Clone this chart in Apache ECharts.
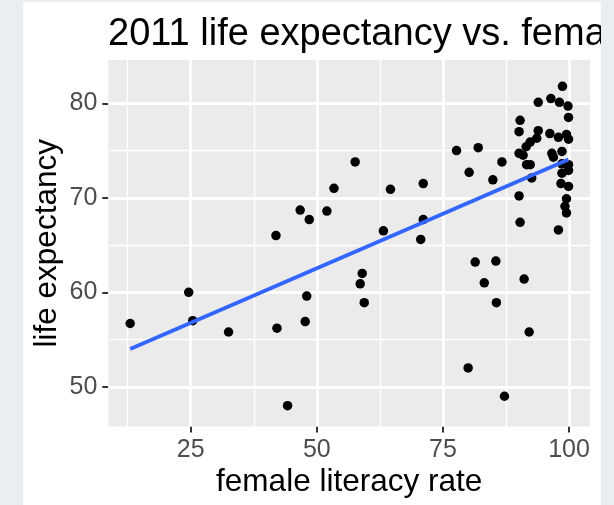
<!DOCTYPE html>
<html>
<head>
<meta charset="utf-8">
<script src="https://cdn.jsdelivr.net/npm/echarts@6/dist/echarts.min.js"></script>
<style>
  html, body { margin: 0; padding: 0; width: 614px; height: 505px; background: #ebeef1; overflow: hidden; }
  #chart { position: absolute; left: 23px; top: 2px; width: 578px; height: 503px; background: #ffffff; }
</style>
</head>
<body>
<div id="chart"></div>
<script>
// ---- data ----
const literacy = [13.0, 24.6, 25.4, 32.5, 41.9, 42.1, 44.2, 46.7, 47.7, 48.0,
  48.5, 52.0, 53.4, 57.6, 58.6, 59.0, 59.4, 63.2, 64.6, 70.6,
  71.1, 71.1, 77.7, 80.0, 80.2, 81.4, 82.0, 83.2, 84.9, 85.5,
  85.6, 86.7, 87.2, 90.1, 90.3, 91.1, 92.1, 97.9, 90.3, 90.1,
  93.9, 96.4, 98.7, 98.1, 99.8, 99.9, 93.9, 96.2, 97.9, 99.5,
  99.9, 92.3, 91.5, 93.6, 90.1, 90.9, 96.6, 96.9, 98.6, 91.6,
  92.3, 98.6, 99.9, 99.9, 98.6, 92.6, 98.4, 99.9, 99.5, 99.2, 99.5];
const lifeExp = [56.7, 60.0, 57.0, 55.8, 66.0, 56.2, 48.0, 68.7, 56.9, 59.6,
  67.7, 68.6, 71.0, 73.8, 60.9, 62.0, 58.9, 66.5, 70.9, 65.6,
  67.7, 71.5, 75.0, 52.0, 72.7, 63.2, 75.3, 61.0, 71.9, 63.3,
  58.9, 73.8, 49.0, 70.2, 67.4, 61.4, 55.8, 66.6, 78.2, 77.0,
  80.1, 80.5, 81.8, 80.1, 79.7, 78.5, 77.1, 76.8, 76.4, 76.7,
  76.2, 75.9, 75.4, 76.3, 74.7, 74.5, 74.7, 74.3, 74.9, 73.5,
  73.5, 73.6, 73.5, 72.9, 72.6, 72.1, 71.5, 71.2, 69.9, 69.1, 68.4];
// fitted linear trend (endpoints)
const fitX = [13.0, 99.9];
const fitY = [54.0, 74.05];
// tick labels / gridlines
const xTicks = [25, 50, 75, 100];
const xMinor = [12.5, 37.5, 62.5, 87.5];
const yTicks = [50, 60, 70, 80];
const yMinor = [55, 65, 75];

const titleText = '2011 life expectancy vs. female literacy rate';
const xTitle = 'female literacy rate';
const yTitle = 'life expectancy';

// ---- build ----
const points = literacy.map((x, i) => [x, lifeExp[i]]);
const fitLine = fitX.map((x, i) => [x, fitY[i]]);
const FONT = "'Liberation Sans', Arial, Helvetica, sans-serif";

const gridLines = [];
xTicks.forEach(v => gridLines.push({ xAxis: v, lineStyle: { width: 2.8 } }));
xMinor.forEach(v => gridLines.push({ xAxis: v, lineStyle: { width: 1.4 } }));
yTicks.forEach(v => gridLines.push({ yAxis: v, lineStyle: { width: 2.8 } }));
yMinor.forEach(v => gridLines.push({ yAxis: v, lineStyle: { width: 1.4 } }));

const chart = echarts.init(document.getElementById('chart'), null, { renderer: 'canvas' });
chart.setOption({
  animation: false,
  textStyle: { fontFamily: FONT },
  title: {
    text: titleText,
    left: 85,
    top: 14,
    padding: 0,
    textStyle: { fontFamily: FONT, fontSize: 38, fontWeight: 'normal', color: '#000000' }
  },
  grid: {
    left: 85.3, top: 58, width: 481.7, height: 366.5,
    containLabel: false, outerBoundsMode: 'none',
    show: true, backgroundColor: '#ebebeb', borderWidth: 0
  },
  xAxis: {
    type: 'value', min: 8.66, max: 104.16,
    name: xTitle, nameLocation: 'middle', nameGap: 40, nameMoveOverlap: false,
    nameTextStyle: { fontFamily: FONT, fontSize: 31.5, color: '#000000' },
    axisLine: { show: false },
    splitLine: { show: false },
    axisTick: { show: true, customValues: xTicks, length: 6, lineStyle: { color: '#333333', width: 2 } },
    axisLabel: { customValues: xTicks, margin: 11, fontSize: 25, color: '#4d4d4d', fontFamily: FONT }
  },
  yAxis: {
    type: 'value', min: 45.80, max: 84.58,
    name: yTitle, nameLocation: 'middle', nameGap: 45, nameMoveOverlap: false,
    nameTextStyle: { fontFamily: FONT, fontSize: 31.5, color: '#000000' },
    axisLine: { show: false },
    splitLine: { show: false },
    axisTick: { show: true, customValues: yTicks, length: 6, lineStyle: { color: '#333333', width: 2 } },
    axisLabel: { customValues: yTicks, margin: 11, fontSize: 25, color: '#4d4d4d', fontFamily: FONT }
  },
  series: [
    {
      type: 'scatter', data: [], z: 1, silent: true,
      markLine: {
        z: 1,
        silent: true, symbol: ['none', 'none'], label: { show: false },
        lineStyle: { color: '#ffffff', type: 'solid' },
        emphasis: { disabled: true },
        data: gridLines
      }
    },
    {
      type: 'scatter', data: points, z: 3, symbolSize: 9.5,
      itemStyle: { color: '#000000', opacity: 1 }
    },
    {
      type: 'line', data: fitLine, z: 4, symbol: 'none',
      lineStyle: { color: '#3366ff', width: 4 }
    }
  ]
});
</script>
</body>
</html>
